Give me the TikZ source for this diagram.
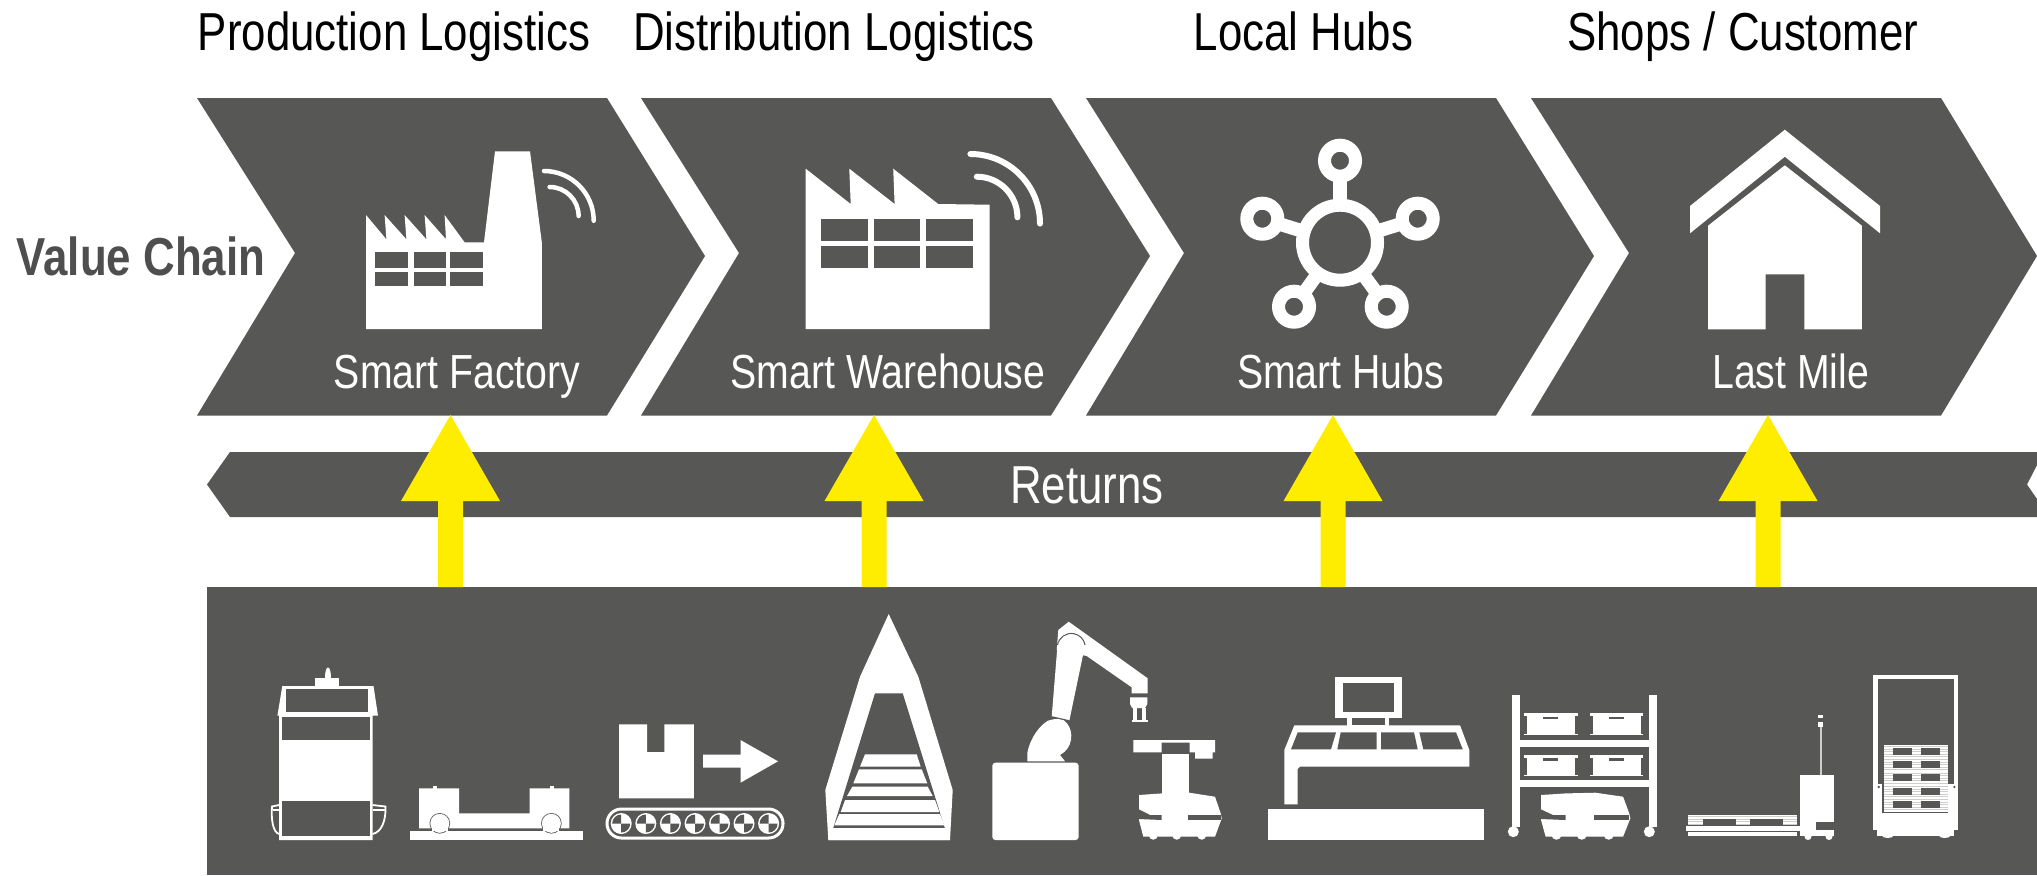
\documentclass[tikz,border=0pt]{standalone}
\usepackage{fontspec}
\setmainfont{Liberation Sans}[FakeStretch=0.82]
\usetikzlibrary{calc}
\definecolor{chaingrey}{HTML}{575756}
\definecolor{chainyellow}{HTML}{FFED00}
\tikzset{
	dark/.style={fill=chaingrey},
	light/.style={fill=white},
	signal/.style={draw=white, line width=#1, line cap=round},
	thinlight/.style={draw=white, line width=0.18mm},
	heading/.style={anchor=base, text=black, font=\fontsize{15.2}{18}\selectfont},
	stagelabel/.style={anchor=base, text=white, font=\fontsize{13.6}{16}\selectfont},
}
\def\chainstep(#1,#2,#3){\fill[dark] (#1, 98) -- (#2, 98) -- (#3, 256) -- (#2, 415.5) -- (#1, 415.5) -- ($(#1, 253)+(98, 0)$) -- cycle;}
\def\upbar(#1){\fill[chainyellow] ($(#1, 587)+(-12.5, 0)$) -- ($(#1, 501)+(-12.5, 0)$) -- ($(#1, 501)+(-49.5, 0)$) -- (#1, 415) -- ($(#1, 501)+(49.5, 0)$) -- ($(#1, 501)+(12.5, 0)$) -- ($(#1, 587)+(12.5, 0)$) -- cycle;}
\def\shopbot(#1,#2)(#3){
	\begin{scope}[shift={(#1, #2)}, xscale=#3]
		\fill[light] (0, 2.3) -- (22.7, 0.7) -- (50.3, 0) -- (76, 4) -- (81.7, 20.7) -- (82.7, 25.7) -- (76, 44) -- (4.3, 44) -- (0, 27.3) -- cycle;
		\foreach \w in {14.3, 37.7, 62.7} {
			\fill[light] (\w, 42.5) circle (4.5);
		}
		\fill[dark] (0, 16.7) -- (11, 22.3) -- (22.7, 22.3) -- (22.7, 27.3) -- (0, 26.3) -- cycle;
		\fill[dark] (49.3, 22.3) rectangle (81.7, 27.3);
	\end{scope}
}
\def\palletrow(#1,#2,#3,#4){
	\fill[light] (#1, #2) rectangle (#3, #4);
	\foreach \s in {1.5, 4, 6.5, 9, 11.5} {
		\draw[chaingrey!30, line width=0.08mm] ($(#1, #2)+(0, \s)$) -- (#3, #2+\s);
	}
}

\begin{document}
\begin{tikzpicture}[x=0.01cm, y=-0.01cm]
			%%%%% START %%%%%
			
			\useasboundingbox (0, 0) rectangle (2037, 875);
			
			\node[heading] (production) at (394, 50) {Production Logistics};
			\node[heading] (distribution) at (834, 50) {Distribution Logistics};
			\node[heading] (hubs) at (1303.5, 50) {Local Hubs};
			\node[heading] (shops) at (1742.6, 50) {Shops / Customer};
			\node[anchor=base, text=chaingrey!90!black, font=\fontsize{15.2}{18}\selectfont\bfseries] (valuechain) at (141, 275) {Value Chain};
			
			\chainstep(197, 607, 705);
			\chainstep(641, 1051, 1150);
			\chainstep(1086, 1496, 1594);
			\chainstep(1531, 1941, 2037);
			
			\node[stagelabel] (factory) at (457, 388) {Smart Factory};
			\node[stagelabel] (warehouse) at (888, 388) {Smart Warehouse};
			\node[stagelabel] (smarthubs) at (1340.6, 388) {Smart Hubs};
			\node[stagelabel] (lastmile) at (1790.7, 388) {Last Mile};
			
			% factory
			\fill[light] (366, 329) -- (366, 215) -- (386.4, 239.3) -- (384.6, 215) -- (406.4, 239.3) -- (404.6, 215) -- (426.4, 239.3) -- (424.6, 215) -- (446, 239.3) -- (444.6, 215) -- (464.6, 242.3) -- (484, 242.3) -- (495, 151.3) -- (530, 151.3) -- (541.8, 242.3) -- (541.8, 329) -- cycle;
			\foreach \a/\b in {375/408.2, 413.6/445.7, 449.6/483} {
				\fill[dark] (\a, 251.7) rectangle (\b, 267.7);
				\fill[dark] (\a, 271.7) rectangle (\b, 286.3);
			}
			\draw[signal=0.45mm] (544, 171) arc (-90:0:49.7);
			\draw[signal=0.45mm] (549.6, 187) arc (-90:0:29);
			
			% warehouse
			\fill[light] (805.7, 329) -- (805.7, 168.7) -- (850.7, 204) -- (849.3, 168.7) -- (894.6, 204) -- (893.2, 168.7) -- (938.2, 204) -- (989.6, 204.7) -- (989.6, 329) -- cycle;
			\foreach \a/\b in {821.4/868.2, 873.6/920.4, 925.7/972.5} {
				\fill[dark] (\a, 219.3) rectangle (\b, 240.7);
				\fill[dark] (\a, 246) rectangle (\b, 267.7);
			}
			\draw[signal=0.6mm] (970.4, 154) arc (-90:0:69.6);
			\draw[signal=0.6mm] (976.8, 176.7) arc (-90:0:40.6);
			
			% hub
			\foreach \a/\b in {1340/160.7, 1262.3/218.7, 1417.7/218.7, 1294/306.7, 1386.7/306.7} {
				\draw[signal=1.35mm, line cap=butt] (1340, 242.7) -- (\a, \b);
				\fill[dark] (\a, \b) circle (15);
				\draw[white, line width=1.3mm] (\a, \b) circle (15.5);
			}
			\fill[dark] (1340, 242.7) circle (37);
			\draw[white, line width=1.3mm] (1340, 242.7) circle (37.5);
			
			% house
			\fill[light] (1784.8, 129.7) -- (1880, 206) -- (1880, 233.3) -- (1784.8, 156.7) -- (1690, 233.3) -- (1690, 206) -- cycle;
			\fill[light] (1784.8, 165.3) -- (1861.9, 225.7) -- (1861.9, 329.3) -- (1804.3, 329.3) -- (1804.3, 274.3) -- (1765.6, 274.3) -- (1765.6, 329.3) -- (1708, 329.3) -- (1708, 225.7) -- cycle;
			
			% returns band
			\fill[dark] (207, 484.5) -- (230, 452) -- (2037, 452) -- (2037, 465) -- (2027, 484.5) -- (2037, 499) -- (2037, 517) -- (230, 517) -- cycle;
			\node[stagelabel, font=\fontsize{15.2}{18}\selectfont] (returns) at (1087, 503) {Returns};
			
			\fill[dark] (207, 587) rectangle (2037, 875);
			\upbar(450.5);
			\upbar(874);
			\upbar(1333);
			\upbar(1768);
			
			% tall robot
			\fill[light] (325.4, 678) .. controls (325.4, 664) and (331.4, 664) .. (331.4, 678) -- cycle;
			\fill[light] (315, 677.7) rectangle (339, 687);
			\fill[light] (282.3, 686) -- (373.5, 686) -- (378, 715.7) -- (372.5, 715.7) -- (372.5, 840) -- (279, 840) -- (279, 715.7) -- (277.4, 715.7) -- cycle;
			\fill[dark] (285.8, 689.3) rectangle (367.9, 712);
			\fill[dark] (281.6, 717.3) rectangle (369.6, 740.3);
			\fill[dark] (281.6, 801.3) rectangle (369.6, 836);
			\draw[thinlight] (279, 805) -- (272, 806.5) .. controls (271, 820) and (273, 832) .. (279, 834);
			\draw[thinlight] (273, 810) -- (279, 810);
			\draw[thinlight] (372.5, 805) -- (385.5, 806.5) .. controls (386, 820) and (382, 832) .. (372.5, 834);
			\draw[thinlight] (372.5, 810) -- (385, 810);
			
			% flat robot
			\fill[light] (409.6, 830.7) rectangle (582.6, 840);
			\fill[light] (419, 828.3) -- (419, 788.3) -- (459, 788.3) -- (459, 813.3) -- (529.6, 813.3) -- (529.6, 788.3) -- (569.3, 788.3) -- (569.3, 828.3) -- cycle;
			\fill[light] (433, 786) rectangle (437, 789);
			\fill[light] (550, 786) rectangle (554, 789);
			\foreach \a in {439.8, 551.4} {
				\fill[dark] (\a, 823.3) circle (10.3);
				\fill[light] (\a, 823.3) circle (9.5);
				\fill[light] ($(\a, 825)+(-8, 0)$) rectangle ($(\a, 831)+(8, 0)$);
			}
			
			% box and conveyor
			\fill[light] (619, 724.3) -- (647.2, 724.3) -- (647.2, 752) -- (664.4, 752) -- (664.4, 724.3) -- (693.9, 724.3) -- (693.9, 798.3) -- (619, 798.3) -- cycle;
			\fill[light] (703, 754.7) -- (740.5, 754.7) -- (740.5, 740) -- (778, 761.3) -- (740.5, 782.7) -- (740.5, 767.7) -- (703, 767.7) -- cycle;
			\draw[white, line width=0.3mm, rounded corners=4.1pt] (607, 809) rectangle (783, 838);
			\foreach \a in {621.2, 645.8, 670.4, 695, 719.5, 744, 768.6} {
				\fill[light] (\a, 823.5) circle (10.5);
				\fill[dark] (\a, 823.5) -- ++(0, -9) arc (-90:-180:9) -- cycle;
				\fill[dark] (\a, 823.5) -- ++(0, 9) arc (90:0:9) -- cycle;
			}
			
			% funnel
			\fill[light] (888.7, 614) -- (918.3, 676.7) -- (952.7, 790) -- (950, 840) -- (828.3, 840) -- (825.3, 790) -- (860, 676.7) -- cycle;
			\fill[dark] (875, 693.3) -- (902.7, 693.3) -- (946, 832) -- (832, 832) -- cycle;
			\fill[light] (865, 754.3) -- (916.7, 754.3) -- (920.7, 766.7) -- (860, 766.7) -- cycle;
			\fill[light] (859, 769.3) -- (921.7, 769.3) -- (927.3, 783.3) -- (853.3, 783.3) -- cycle;
			\fill[light] (852.3, 786.7) -- (927.7, 786.7) -- (932.7, 796) -- (847, 796) -- cycle;
			\fill[light] (845, 800) -- (935, 800) -- (939.3, 812) -- (840.7, 812) -- cycle;
			\fill[light] (839.3, 814) -- (940, 814) -- (944.3, 825.3) -- (834.3, 825.3) -- cycle;
			\fill[light] (832.7, 828) -- (945.7, 828) -- (950, 840) -- (828.3, 840) -- cycle;
			
			% arm
			\fill[light, rounded corners=0.9pt] (992.3, 762.7) rectangle (1078.7, 840);
			\fill[light] (1027.3, 761.3) -- (1027.3, 753) .. controls (1030, 738) and (1040, 725) .. (1048, 720.7) .. controls (1056, 718) and (1064, 718) .. (1067, 723.3) .. controls (1074, 732) and (1073, 748) .. (1060, 755) -- (1065, 761.3) -- cycle;
			\fill[light] (1056.7, 650) -- (1058.3, 630) -- (1068.7, 621.7) -- (1147.7, 678.3) -- (1147.7, 693.3) -- (1131.7, 693.3) -- (1131.7, 687.3) -- (1086.7, 656) -- cycle;
			\fill[light] (1051.7, 716.7) -- (1057.5, 645) arc (-170:-10:14) -- (1069.3, 720.7) -- cycle;
			\draw[chaingrey, line width=0.1mm] (1057.5, 645) arc (-170:-10:14);
			\draw[chaingrey, line width=0.1mm] (1051.7, 716.7) -- (1069.3, 720.7);
			\fill[light] (1130, 697.3) -- (1147.3, 697.3) -- (1147.3, 704) -- (1145, 708) -- (1132, 708) -- (1130, 704) -- cycle;
			\fill[light] (1132.5, 708) rectangle (1136.5, 720);
			\fill[light] (1141.5, 708) rectangle (1145.5, 720);
			\fill[light] (1131.7, 719.5) rectangle (1148, 721.7);
			
			% mobile picker
			\fill[light] (1133.3, 740) -- (1215, 740) -- (1215, 752.3) -- (1212.5, 752.3) -- (1212.5, 758.7) -- (1195, 758.7) -- (1195, 752.3) -- (1189.7, 752.3) -- (1189.7, 742.7) -- (1161.7, 742.7) -- (1161.7, 752.3) -- (1133.3, 752.3) -- cycle;
			\fill[light] (1161.7, 754.3) rectangle (1189.3, 795);
			\shopbot(1139, 792.7)(1);
			\fill[light] (1161.7, 790) rectangle (1188, 822);
			
			% station
			\fill[light] (1268.3, 809.3) rectangle (1484.3, 840);
			\fill[light] (1294.3, 725.3) -- (1460, 725.3) -- (1469.3, 750) -- (1469.3, 766.7) -- (1300, 766.7) -- (1297.7, 769) -- (1297.7, 804.3) -- (1284.3, 804.3) -- (1284.3, 750) -- cycle;
			\fill[dark] (1297.7, 732.3) -- (1336, 732.3) -- (1331, 749.3) -- (1291, 749.3) -- cycle;
			\fill[dark] (1340.7, 732.3) -- (1376.7, 732.3) -- (1376.7, 749.3) -- (1337.3, 749.3) -- cycle;
			\fill[dark] (1381, 732.3) -- (1414, 732.3) -- (1417.7, 749.3) -- (1381, 749.3) -- cycle;
			\fill[dark] (1419.3, 732.3) -- (1456, 732.3) -- (1462.7, 749.3) -- (1423.3, 749.3) -- cycle;
			\fill[light] (1347.3, 717) rectangle (1389.3, 725.5);
			\fill[dark] (1352.3, 717.7) rectangle (1384.7, 725.3);
			\fill[light] (1335, 677.3) rectangle (1401.7, 717.7);
			\fill[dark] (1342.7, 682.7) rectangle (1394, 712.3);
			
			% shelf
			\fill[light] (1512.3, 694.7) rectangle (1520.3, 826.7);
			\fill[light] (1649.3, 694.7) rectangle (1656.7, 826.7);
			\fill[light] (1513.3, 831.7) circle (5.5);
			\fill[light] (1649.3, 831.7) circle (5.5);
			\fill[light] (1512.3, 740) rectangle (1656.7, 746.7);
			\fill[light] (1512.3, 780) rectangle (1656.7, 786.7);
			\foreach \a in {1524.3, 1590} {
				\foreach \b in {713.3, 754.7} {
					\fill[light] ($(\a, \b)+(0, 0)$) rectangle ($(\a, \b)+(53.4, 3)$);
					\fill[light] ($(\a, \b)+(2.5, 0)$) rectangle ($(\a, \b)+(50.9, 21)$);
					\fill[light] ($(\a, \b)+(0, 20.4)$) rectangle ($(\a, \b)+(53.4, 21.6)$);
					\fill[dark] ($(\a, \b)+(18.5, 3.5)$) rectangle ($(\a, \b)+(33.5, 6)$);
				}
			}
			\shopbot(1541, 792.7)(1.08);
			
			% pallet truck
			\fill[light] (1800.3, 775) rectangle (1833.7, 822.3);
			\fill[light] (1800.3, 822) rectangle (1816.3, 836);
			\fill[light] (1800.3, 830) rectangle (1833.7, 836);
			\fill[light] (1808, 836.5) circle (3.5);
			\fill[light] (1829, 836.5) circle (3.5);
			\palletrow(1688.3, 815, 1796.7, 825);
			\fill[dark] (1702.7, 819) rectangle (1736, 825.5);
			\fill[dark] (1749.7, 819) rectangle (1783.3, 825.5);
			\fill[light] (1685.7, 825.7) rectangle (1800.3, 831);
			\fill[light] (1688.3, 832) rectangle (1796.7, 835.5);
			\draw[white!70!chaingrey, line width=0.12mm] (1821, 726.7) -- (1821, 775);
			\fill[light] (1817.7, 721.7) rectangle (1823.3, 726.7);
			\fill[light] (1817.7, 715) rectangle (1823.3, 718.3);
			
			% cart
			\fill[light] (1873.3, 674.7) rectangle (1957.7, 830);
			\fill[dark] (1877.7, 678.7) rectangle (1953.7, 784);
			\fill[dark] (1881.7, 784) rectangle (1948.3, 813);
			\fill[light] (1877.3, 830) rectangle (1954, 836);
			\fill[light] (1887.7, 835.5) ellipse (5.7 and 2.5);
			\fill[light] (1944.7, 835.5) ellipse (5.7 and 2.5);
			\fill[dark] (1878.7, 787) circle (1.3);
			\fill[dark] (1954.3, 787) circle (1.3);
			\foreach \b in {745, 758.3, 771.6, 784.9, 798.2} {
				\palletrow(1884, \b, 1948.3, \b+13.3);
				\fill[dark] (1892.7, \b+2.7) rectangle (1912.3, \b+9.7);
				\fill[dark] (1921, \b+2.7) rectangle (1940.3, \b+9.7);
			}
			
			%%%%% END %%%%%
		\end{tikzpicture}
\end{document}
